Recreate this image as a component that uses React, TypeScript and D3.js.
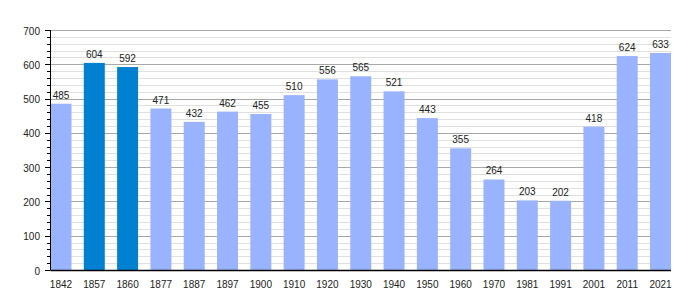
import React from "react";
import * as d3 from "d3";

const years = ["1842","1857","1860","1877","1887","1897","1900","1910","1920","1930","1940","1950","1960","1970","1981","1991","2001","2011","2021"];
const population = [485,604,592,471,432,462,455,510,556,565,521,443,355,264,203,202,418,624,633];
const highlighted = ["1857","1860"];
const yTicks = [0,100,200,300,400,500,600,700];

const W = 700, H = 300;
const left = 50.5, right = 671, top = 30, bottom = 270;
const FONT = "'Liberation Sans', Arial, sans-serif";

export default function App() {
  const x = d3.scaleBand<string>().domain(years).range([left, right]).paddingInner(0.37).paddingOuter(0);
  const y = d3.scaleLinear().domain([0, 700]).range([bottom, top]);
  const minor = d3.range(0, 701, 20);
  return (
    <svg width={W} height={H} style={{ position: "absolute", left: 0, top: 0 }}>
      <rect width={W} height={H} fill="#fff" />
      {minor.filter(v => v % 100 !== 0).map(v => (
        <line key={"m" + v} x1={left} x2={right} y1={Math.round(y(v)) + 0.5} y2={Math.round(y(v)) + 0.5} stroke="#e0e0e0" strokeWidth={1} />
      ))}
      {yTicks.filter(v => v > 0).map(v => (
        <line key={"g" + v} x1={left} x2={right} y1={Math.round(y(v)) + 0.5} y2={Math.round(y(v)) + 0.5} stroke="#a8a8a8" strokeWidth={1} />
      ))}
      {years.map((yr, i) => (
        <rect key={yr} x={x(yr)} y={y(population[i])} width={x.bandwidth()} height={bottom - y(population[i])}
          fill={highlighted.includes(yr) ? "#0080d0" : "#99b3ff"} />
      ))}
      {years.map((yr, i) => (
        <text key={"l" + yr} x={(x(yr) as number) + x.bandwidth() / 2} y={y(population[i]) - 5}
          textAnchor="middle" fontFamily={FONT} fontSize={10} fill="#222">{population[i]}</text>
      ))}
      {minor.map(v => (
        <line key={"t" + v} x1={v % 100 === 0 ? 45 : 47} x2={left} y1={Math.round(y(v)) + 0.5} y2={Math.round(y(v)) + 0.5} stroke="#000" strokeWidth={1} />
      ))}
      <line x1={left} x2={left} y1={top} y2={bottom} stroke="#000" strokeWidth={1} />
      <line x1={left} x2={right} y1={bottom + 0.5} y2={bottom + 0.5} stroke="#000" strokeWidth={1.5} />
      {yTicks.map(v => (
        <text key={"y" + v} x={40} y={y(v) + 4.5} textAnchor="end" fontFamily={FONT} fontSize={10} fill="#222">{v}</text>
      ))}
      {years.map(yr => (
        <text key={"x" + yr} x={(x(yr) as number) + x.bandwidth() / 2} y={287.5} textAnchor="middle" fontFamily={FONT} fontSize={10} fill="#222">{yr}</text>
      ))}
    </svg>
  );
}
